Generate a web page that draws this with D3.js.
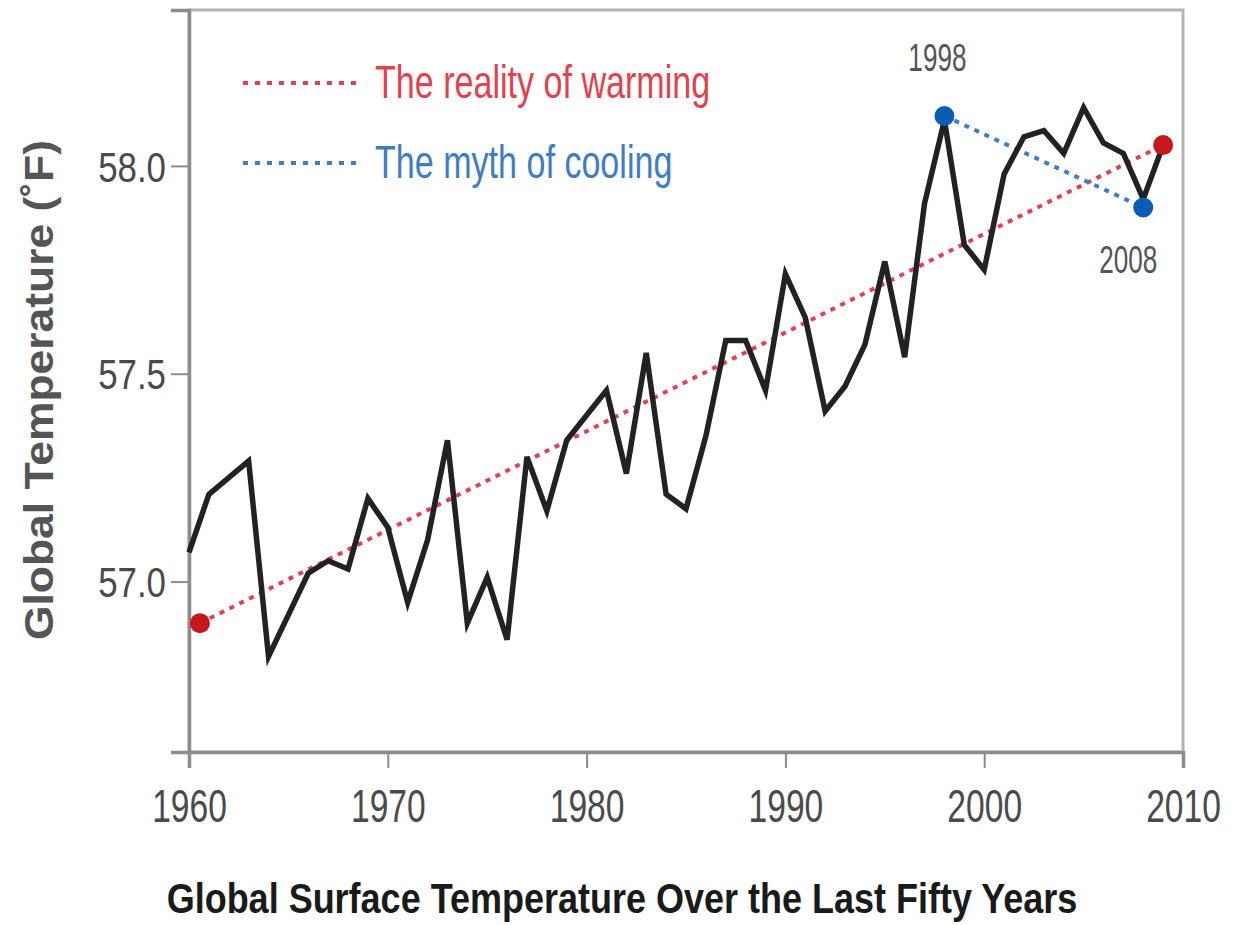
<!DOCTYPE html>
<html>
<head>
<meta charset="utf-8">
<script src="https://cdn.jsdelivr.net/npm/d3@7"></script>
<style>
    body { margin: 0; background: #fff; }
    svg { display: block; }
</style>
</head>
<body>
<svg id="chart"></svg>
<script>

// yearly global temperature (F)
const years = [1960, 1961, 1962, 1963, 1964, 1965, 1966, 1967, 1968, 1969,
    1970, 1971, 1972, 1973, 1974, 1975, 1976, 1977, 1978, 1979,
    1980, 1981, 1982, 1983, 1984, 1985, 1986, 1987, 1988, 1989,
    1990, 1991, 1992, 1993, 1994, 1995, 1996, 1997, 1998, 1999,
    2000, 2001, 2002, 2003, 2004, 2005, 2006, 2007, 2008, 2009];
const temps = [57.07, 57.21, 57.25, 57.29, 56.82, 56.92, 57.02, 57.05, 57.03, 57.20,
    57.13, 56.95, 57.10, 57.34, 56.90, 57.01, 56.86, 57.30, 57.17, 57.34,
    57.40, 57.46, 57.26, 57.55, 57.21, 57.175, 57.35, 57.58, 57.58, 57.46,
    57.74, 57.635, 57.41, 57.47, 57.57, 57.77, 57.54, 57.91, 58.11, 57.81,
    57.75, 57.98, 58.07, 58.085, 58.03, 58.14, 58.055, 58.03, 57.92, 58.05];

// the two dotted lines: warming trend and the 1998 -> 2008 "cooling"
const warmingYears = [1960.55, 2009];
const warmingTemps = [56.90, 58.05];
const coolingYears = [1998, 2008];
const coolingTemps = [58.12, 57.90];

const xTicks = [1960, 1970, 1980, 1990, 2000, 2010];
const yTicks = [57.0, 57.5, 58.0];

const legendLabels = ['The reality of warming', 'The myth of cooling'];
const annotLabels = ['1998', '2008'];


// the original uses a condensed face, fake it by squeezing Liberation Sans
function squeeze(sel, k) {
    sel.each(function() {
        const len = this.getComputedTextLength();
        d3.select(this)
            .attr('textLength', len * k)
            .attr('lengthAdjust', 'spacingAndGlyphs');
    });
}


class tempLineChart {

    constructor(_config) {
        this.config = {
            parentElement: _config.parentElement,
            containerWidth: _config.containerWidth || 1248,
            containerHeight: _config.containerHeight || 925,
            margin: { top: 10, bottom: 173, right: 65, left: 189 }
        }
        this.initVis();
    }

    initVis() {
        let vis = this;

        vis.width = vis.config.containerWidth - vis.config.margin.left - vis.config.margin.right;
        vis.height = vis.config.containerHeight - vis.config.margin.top - vis.config.margin.bottom;

        vis.svg = d3.select(vis.config.parentElement)
            .attr('width', vis.config.containerWidth)
            .attr('height', vis.config.containerHeight);

        vis.chart = vis.svg.append('g')
            .attr('transform', `translate(${vis.config.margin.left}, ${vis.config.margin.top})`);

        const font = '"Liberation Sans", Arial, sans-serif';
        const red = '#e0424f';
        const blue = '#3f7cc4';

        const xScale = d3.scaleLinear()
            .domain([1960, 2010])
            .range([0, vis.width]);

        const yScale = d3.scaleLinear()
            .domain([56.59, 58.375])
            .range([vis.height, 0]);

        // frame (top + right lighter)
        vis.chart.append('rect')
            .attr('x', 0)
            .attr('y', 0)
            .attr('width', vis.width)
            .attr('height', vis.height)
            .attr('fill', 'none')
            .attr('stroke', '#b4b4b4')
            .attr('stroke-width', 3);

        vis.xAxis = d3.axisBottom(xScale)
            .tickValues(xTicks)
            .tickFormat(d3.format('d'))
            .tickSize(16)
            .tickPadding(21);

        vis.yAxis = d3.axisLeft(yScale)
            .tickValues(yTicks)
            .tickFormat(d3.format('.1f'))
            .tickSize(18)
            .tickPadding(5);

        vis.xAxisGroup = vis.chart.append('g')
            .attr('transform', `translate(0, ${vis.height})`)
            .call(vis.xAxis);

        vis.yAxisGroup = vis.chart.append('g')
            .call(vis.yAxis);

        [vis.xAxisGroup, vis.yAxisGroup].forEach(g => {
            g.select('.domain').attr('stroke', '#8c8c8c').attr('stroke-width', 3.5);
            g.selectAll('.tick line').attr('stroke', '#8c8c8c').attr('stroke-width', 2);
            g.selectAll('.tick text')
                .attr('fill', '#4a4a4a')
                .style('font-family', font);
        });
        vis.xAxisGroup.selectAll('.tick text').style('font-size', '46px');
        vis.yAxisGroup.selectAll('.tick text').style('font-size', '42px').attr('dy', '0.36em');
        squeeze(vis.xAxisGroup.selectAll('.tick text'), 0.73);
        squeeze(vis.yAxisGroup.selectAll('.tick text'), 0.83);

        // axis titles
        vis.svg.append('text')
            .attr('transform', `translate(53, 390) rotate(-90)`)
            .attr('text-anchor', 'middle')
            .style('font-family', font)
            .style('font-weight', 'bold')
            .style('font-size', '40px')
            .attr('fill', '#555')
            .attr('textLength', 500)
            .attr('lengthAdjust', 'spacingAndGlyphs')
            .text('Global Temperature (˚F)');

        // bottom title: squeeze with a transform so its box stays honest
        const title = vis.svg.append('text')
            .attr('text-anchor', 'middle')
            .style('font-family', font)
            .style('font-weight', 'bold')
            .style('font-size', '43px')
            .attr('fill', '#1a1a1a')
            .text('Global Surface Temperature Over the Last Fifty Years');
        const titleK = 911 / title.node().getComputedTextLength();
        title.attr('transform', `translate(622, 913) scale(${titleK}, 1)`);

        const line = d3.line()
            .x(d => xScale(d[0]))
            .y(d => yScale(d[1]));

        const tempData = years.map((y, i) => [y, temps[i]]);
        const warmData = warmingYears.map((y, i) => [y, warmingTemps[i]]);
        const coolData = coolingYears.map((y, i) => [y, coolingTemps[i]]);

        // warming trend (dotted red)
        vis.chart.append('path')
            .datum(warmData)
            .attr('d', line)
            .attr('fill', 'none')
            .attr('stroke', red)
            .attr('stroke-width', 4)
            .attr('stroke-dasharray', '5 6');

        // cooling "trend" (dotted blue)
        vis.chart.append('path')
            .datum(coolData)
            .attr('d', line)
            .attr('fill', 'none')
            .attr('stroke', blue)
            .attr('stroke-width', 4)
            .attr('stroke-dasharray', '5 6');

        // the actual temperature series
        vis.chart.append('path')
            .datum(tempData)
            .attr('d', line)
            .attr('fill', 'none')
            .attr('stroke', '#222')
            .attr('stroke-width', 5.5)
            .attr('stroke-linejoin', 'miter');

        // end points
        vis.chart.selectAll('.warm-dot')
            .data(warmData)
            .join('circle')
            .attr('class', 'warm-dot')
            .attr('cx', d => xScale(d[0]))
            .attr('cy', d => yScale(d[1]))
            .attr('r', 10)
            .attr('fill', '#c8161d');

        vis.chart.selectAll('.cool-dot')
            .data(coolData)
            .join('circle')
            .attr('class', 'cool-dot')
            .attr('cx', d => xScale(d[0]))
            .attr('cy', d => yScale(d[1]))
            .attr('r', 10)
            .attr('fill', '#0b5cb5');

        // year labels near the blue dots
        const annot = vis.chart.selectAll('.annot')
            .data(coolData)
            .join('text')
            .attr('class', 'annot')
            .attr('x', (d, i) => xScale(d[0]) + (i === 0 ? -7 : -15))
            .attr('y', (d, i) => yScale(d[1]) + (i === 0 ? -45 : 66))
            .attr('text-anchor', 'middle')
            .style('font-family', font)
            .style('font-size', '39px')
            .attr('fill', '#555')
            .text((d, i) => annotLabels[i]);
        squeeze(annot, 0.67);

        // legend
        const legendColors = [red, blue];
        const legend = vis.svg.append('g')
            .selectAll('g')
            .data(legendLabels)
            .join('g')
            .attr('transform', (d, i) => `translate(243, ${83 + i * 80})`);

        legend.append('line')
            .attr('x1', 0)
            .attr('x2', 114)
            .attr('stroke', (d, i) => legendColors[i])
            .attr('stroke-width', 4)
            .attr('stroke-dasharray', '5 7');

        const legendText = legend.append('text')
            .attr('x', 132)
            .attr('y', 15)
            .style('font-family', font)
            .style('font-size', '47px')
            .attr('fill', (d, i) => legendColors[i])
            .text(d => d);
        squeeze(legendText, 0.725);
    }
};

let chart = new tempLineChart({ parentElement: '#chart' });

</script>
</body>
</html>
